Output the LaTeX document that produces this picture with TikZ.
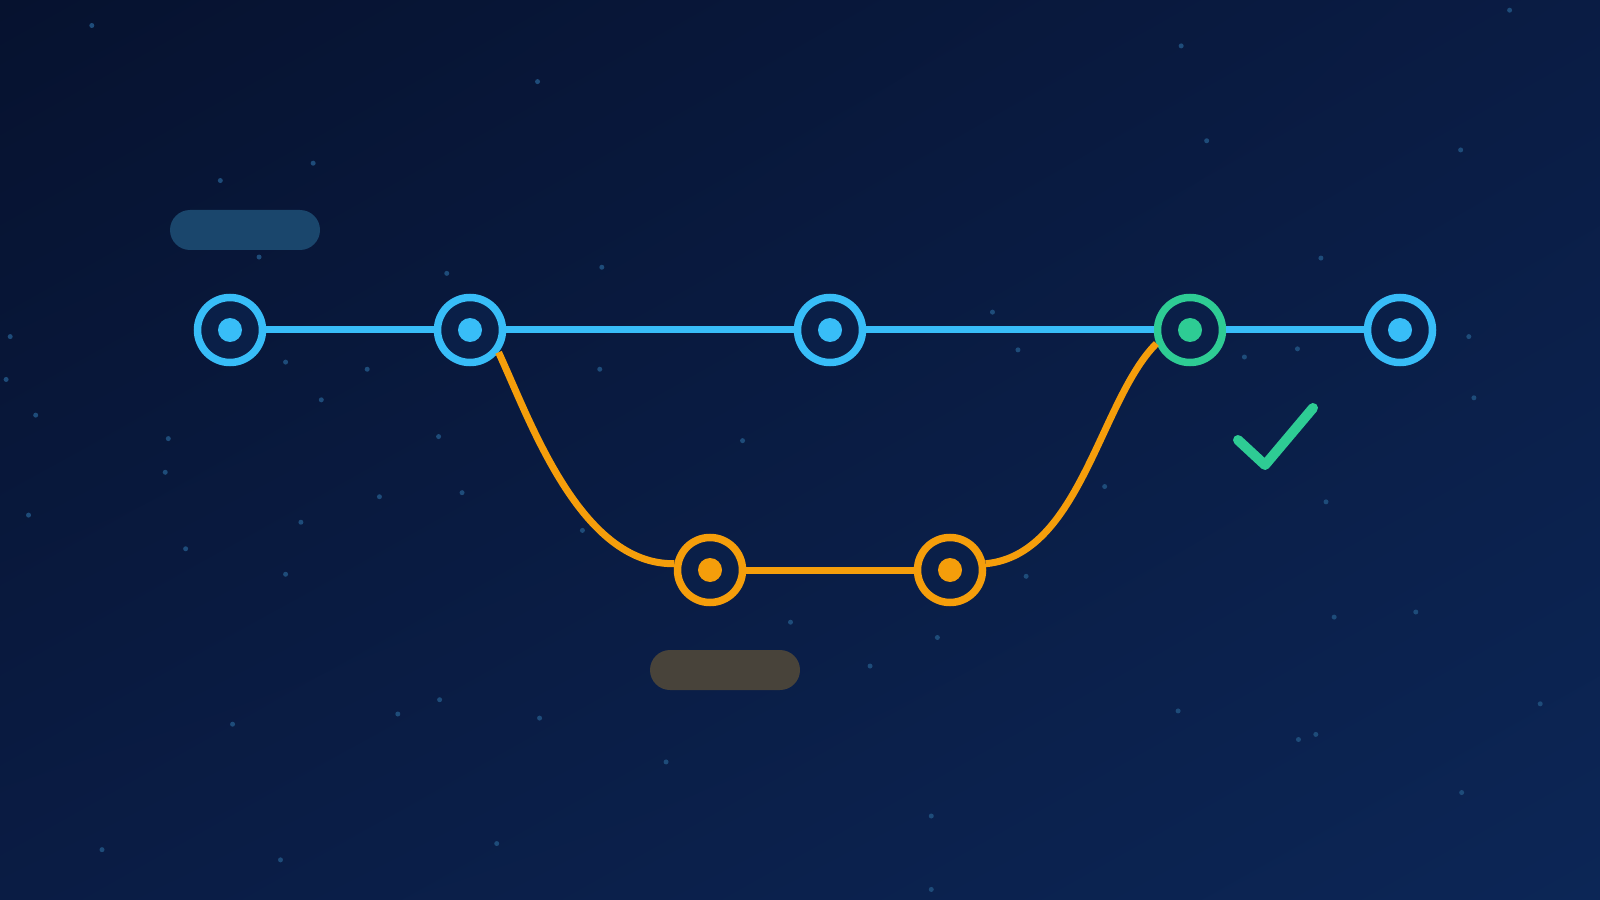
\documentclass[tikz,border=0pt]{standalone}
\usetikzlibrary{positioning,shadings}
\definecolor{bgdark}{HTML}{06122F}
\definecolor{bgmid}{HTML}{0A1C44}
\definecolor{bglight}{HTML}{0C2656}
\definecolor{nodefill}{HTML}{0A1F48}
\definecolor{mainblue}{HTML}{38BDF8}
\definecolor{branchorange}{HTML}{F59E0B}
\definecolor{mergegreen}{HTML}{2ECC94}
\definecolor{pillblue}{HTML}{1A466C}
\definecolor{pillbrown}{HTML}{48433A}
\definecolor{stardot}{HTML}{1E4C7A}
\tikzset{
    %Define style for commits
    commit/.style={
           circle,
           draw=mainblue, line width=0.75mm,
           fill=nodefill,
           minimum size=6.5mm,
           inner sep=0pt},
    branchcommit/.style={commit, draw=branchorange},
    mergecommit/.style={commit, draw=mergegreen},
    % Define line styles
    mainline/.style={
           draw=mainblue,
           line width=0.7mm},
    branchline/.style={
           draw=branchorange,
           line width=0.7mm},
    % Define style for tags
    pill/.style={
           rounded corners=2mm}
}

\begin{document}
\begin{tikzpicture}[x=0.1mm,y=-0.1mm]
\useasboundingbox (0,0) rectangle (1600,900);
 %background
\shade[upper left=bgdark, upper right=bgmid, lower left=bgmid, lower right=bglight] (0,0) rectangle (1600,900);
\foreach \sx/\sy in {90/25,527/80,1158/45,1480/10,216/177,307/160,1183/138,1432/147,254/252,590/262,973/306,1295/253,438/268,10/330,280/355,360/362,588/362,998/343,1220/350,1272/342,1440/330,6/372,315/392,35/407,1445/390,165/430,430/428,728/432,162/463,372/487,453/483,1083/477,1300/492,28/505,295/512,182/538,571/520,1006/565,280/563,775/610,1308/605,1388/600,919/625,853/653,431/686,390/700,529/704,228/710,1155/697,653/747,1290/720,1273/725,1433/777,100/833,487/827,275/843,913/800,913/872,1510/690}
  \fill[stardot] ({\sx*1.02},{\sy*1.02}) circle (0.25mm);

 %tags
\fill[pill, pillblue] (170,210) rectangle (320,250);
\fill[pill, pillbrown] (650,650) rectangle (800,690);

 %nodes
\node[commit](c1) at (230,330){};
\node[commit](c2) at (470,330){};
\node[commit](c3) at (830,330){};
\node[mergecommit](c4) at (1190,330){};
\node[commit](c5) at (1400,330){};
\node[branchcommit](b1) at (710,570){};
\node[branchcommit](b2) at (950,570){};

 %lines
\path[mainline] (c1) -- (c2) (c2) -- (c3) (c3) -- (c4) (c4) -- (c5);
\path[branchline] (c2.-38) .. controls (530,420) and (580,565) .. (b1.170);
\path[branchline] (b1) -- (b2);
\path[branchline] (b2.10) .. controls (1080,555) and (1100,400) .. (c4.-158);

 %dots
\foreach \n in {c1,c2,c3,c5}
  \fill[mainblue] (\n) circle (1.2mm);
\foreach \n in {b1,b2}
  \fill[branchorange] (\n) circle (1.2mm);
\fill[mergegreen] (c4) circle (1.2mm);

 %check mark
\draw[mergegreen, line width=1mm, line cap=round, line join=round] (1238,440) -- (1265,465) -- (1313,408);

\end{tikzpicture}
\end{document}
